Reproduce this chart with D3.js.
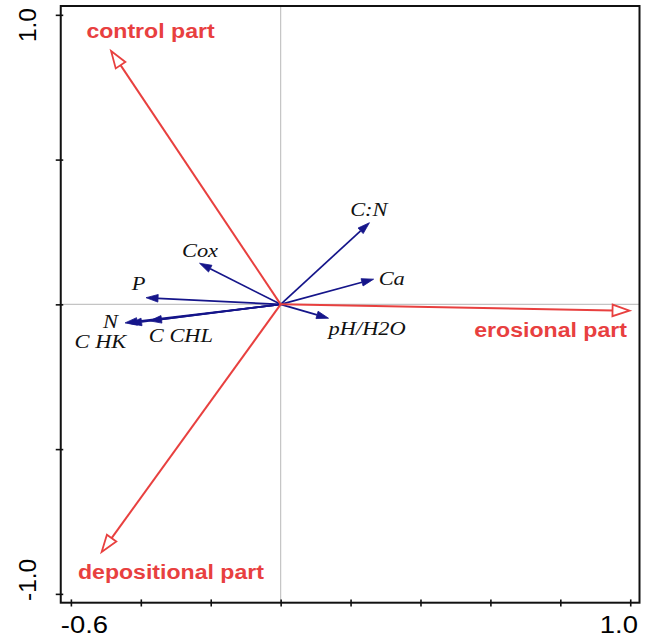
<!DOCTYPE html>
<html>
<head>
<meta charset="utf-8">
<script src="https://cdn.jsdelivr.net/npm/d3@7"></script>
<style>
  html, body { margin: 0; padding: 0; background: #fff; }
  svg { display: block; }
</style>
</head>
<body>
<svg id="chart" width="653" height="640"></svg>
<script>
// Sample groups (supplementary variables, red) and soil variables (blue)
const groupNames = ["control part", "erosional part", "depositional part"];
const groupAxis1 = [-0.485, 0.998, -0.512];
const groupAxis2 = [0.875, -0.022, -0.855];

const soilNames = ["Cox", "P", "N", "C HK", "C CHL", "pH/H2O", "C:N", "Ca"];
const soilAxis1 = [-0.232, -0.385, -0.445, -0.432, -0.375, 0.137, 0.254, 0.266];
const soilAxis2 = [0.142, 0.023, -0.064, -0.066, -0.057, -0.048, 0.282, 0.087];

const xTickValues = [-0.6, -0.4, -0.2, 0, 0.2, 0.4, 0.6, 0.8, 1.0];
const yTickValues = [-1.0, -0.5, 0, 0.5, 1.0];
const xTickLabels = ["-0.6", "1.0"];
const yTickLabels = ["1.0", "-1.0"];

const RED = "#e8403f";
const BLUE = "#15158a";

const box = { left: 60.75, right: 639.5, top: 6, bottom: 602.7 };

const x = d3.scaleLinear().domain([-0.629, 1.0265]).range([box.left, box.right]);
const y = d3.scaleLinear().domain([-1.0305, 1.0305]).range([box.bottom, box.top]);

const svg = d3.select("#chart");

// zero lines
svg.append("line")
  .attr("x1", x(0)).attr("x2", x(0))
  .attr("y1", box.top).attr("y2", box.bottom)
  .attr("stroke", "#c4c4c4").attr("stroke-width", 1.2);
svg.append("line")
  .attr("x1", box.left).attr("x2", box.right)
  .attr("y1", y(0)).attr("y2", y(0))
  .attr("stroke", "#c4c4c4").attr("stroke-width", 1.2);

// axes: ticks only, crossing the frame
const xAxis = svg.append("g")
  .attr("transform", `translate(0,${box.bottom})`)
  .call(d3.axisBottom(x).tickValues(xTickValues).tickSize(3.8).tickSizeOuter(0).tickFormat(""));
xAxis.select(".domain").remove();
xAxis.selectAll(".tick line").attr("y1", -3.3).attr("stroke", "#111").attr("stroke-width", 1.6);

const yAxis = svg.append("g")
  .attr("transform", `translate(${box.left},0)`)
  .call(d3.axisLeft(y).tickValues(yTickValues).tickSize(5).tickSizeOuter(0).tickFormat(""));
yAxis.select(".domain").remove();
yAxis.selectAll(".tick line").attr("x1", 2.5).attr("stroke", "#111").attr("stroke-width", 1.6);

// frame
svg.append("rect")
  .attr("x", box.left).attr("y", box.top)
  .attr("width", box.right - box.left).attr("height", box.bottom - box.top)
  .attr("fill", "none").attr("stroke", "#111").attr("stroke-width", 2);

// end labels of the axes
const tickFont = "'Liberation Sans', Arial, sans-serif";
svg.append("text")
  .attr("transform", `translate(${box.left},633) scale(1.12,1)`)
  .attr("font-family", tickFont).attr("font-size", 24.5)
  .attr("text-anchor", "start").attr("fill", "#000")
  .text(xTickLabels[0]);
svg.append("text")
  .attr("transform", `translate(638,633) scale(1.12,1)`)
  .attr("font-family", tickFont).attr("font-size", 24.5)
  .attr("text-anchor", "end").attr("fill", "#000")
  .text(xTickLabels[1]);
svg.append("text")
  .attr("transform", `translate(35.5,8) rotate(-90)`)
  .attr("font-family", tickFont).attr("font-size", 24.5)
  .attr("text-anchor", "end").attr("fill", "#000")
  .text(yTickLabels[0]);
svg.append("text")
  .attr("transform", `translate(35.5,601) rotate(-90)`)
  .attr("font-family", tickFont).attr("font-size", 24.5)
  .attr("text-anchor", "start").attr("fill", "#000")
  .text(yTickLabels[1]);

// arrow geometry: shaft end and head triangle
function arrowHead(x0, y0, x1, y1, len, half) {
  const dx = x1 - x0, dy = y1 - y0;
  const L = Math.hypot(dx, dy);
  const ux = dx / L, uy = dy / L;
  const bx = x1 - ux * len, by = y1 - uy * len;
  const px = -uy, py = ux;
  return {
    bx, by,
    pts: [[x1, y1], [bx + px * half, by + py * half], [bx - px * half, by - py * half]]
  };
}

const ox = x(0), oy = y(0);

// soil variable arrows (blue, filled heads)
const soil = soilNames.map((n, i) => ({ name: n, a1: soilAxis1[i], a2: soilAxis2[i] }));
const soilLabelOffset = {
  "Cox": [-17.6, -6.6, "start"],
  "P": [-14.3, -7.7, "start"],
  "N": [-22, 5.6, "start"],
  "C HK": [-55, 24.8, "start"],
  "C CHL": [-0.7, 20.7, "start"],
  "pH/H2O": [0, 16.7, "start"],
  "C:N": [-19.3, -6.7, "start"],
  "Ca": [5, 6, "start"]
};

const gSoil = svg.append("g");
soil.forEach(d => {
  const tx = x(d.a1), ty = y(d.a2);
  const h = arrowHead(ox, oy, tx, ty, 12, 3.8);
  gSoil.append("line")
    .attr("x1", ox).attr("y1", oy).attr("x2", h.bx).attr("y2", h.by)
    .attr("stroke", BLUE).attr("stroke-width", 1.7);
  gSoil.append("polygon")
    .attr("points", h.pts.map(p => p.join(",")).join(" "))
    .attr("fill", BLUE).attr("stroke", BLUE).attr("stroke-width", 0.8);
});
soil.forEach(d => {
  const tx = x(d.a1), ty = y(d.a2);
  const o = soilLabelOffset[d.name];
  gSoil.append("text")
    .attr("transform", `translate(${tx + o[0]},${ty + o[1]}) scale(1.18,1)`)
    .attr("font-family", "'Liberation Serif', 'Times New Roman', serif")
    .attr("font-style", "italic").attr("font-size", 19)
    .attr("text-anchor", o[2]).attr("fill", "#111")
    .text(d.name);
});

// sample group arrows (red, open heads)
const groups = groupNames.map((n, i) => ({ name: n, a1: groupAxis1[i], a2: groupAxis2[i] }));
const groupLabelOffset = {
  "control part": [-24.7, -12.7, "start"],
  "erosional part": [-2.6, 26, "end"],
  "depositional part": [-23.7, 27.3, "start"]
};
const gGroup = svg.append("g");
groups.forEach(d => {
  const tx = x(d.a1), ty = y(d.a2);
  const h = arrowHead(ox, oy, tx, ty, 17, 5.8);
  gGroup.append("line")
    .attr("x1", ox).attr("y1", oy).attr("x2", h.bx).attr("y2", h.by)
    .attr("stroke", RED).attr("stroke-width", 2);
  gGroup.append("polygon")
    .attr("points", h.pts.map(p => p.join(",")).join(" "))
    .attr("fill", "#fff").attr("stroke", RED).attr("stroke-width", 1.8)
    .attr("stroke-linejoin", "miter");
  const o = groupLabelOffset[d.name];
  gGroup.append("text")
    .attr("transform", `translate(${tx + o[0]},${ty + o[1]}) scale(1.1,1)`)
    .attr("font-family", "'Liberation Sans', Arial, sans-serif")
    .attr("font-weight", "bold").attr("font-size", 21)
    .attr("text-anchor", o[2]).attr("fill", RED)
    .text(d.name);
});
</script>
</body>
</html>
